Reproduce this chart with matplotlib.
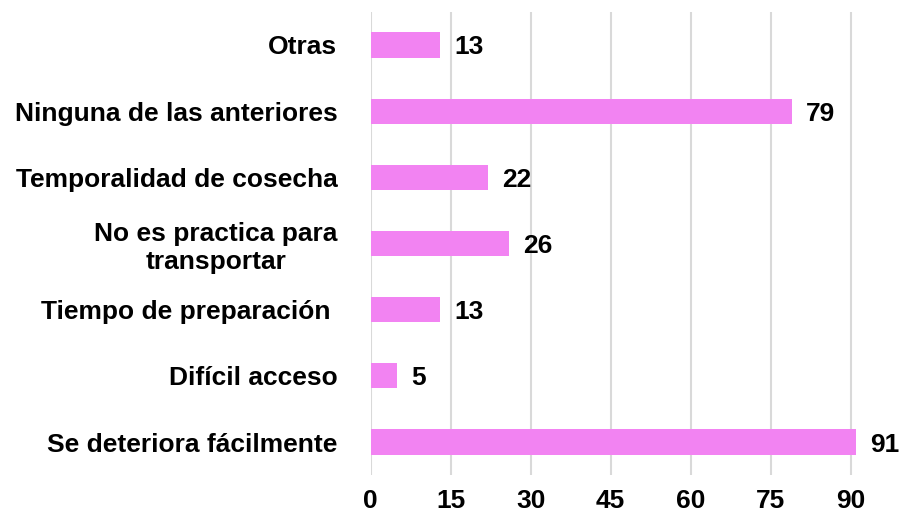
import matplotlib
matplotlib.use("Agg")
import matplotlib.pyplot as plt

# data, top to bottom as drawn
categories = ["Otras", "Ninguna de las anteriores", "Temporalidad de cosecha",
              "No es practica para\ntransportar", "Tiempo de preparación ",
              "Difícil acceso", "Se deteriora fácilmente"]
values = [13, 79, 22, 26, 13, 5, 91]
xticks = [0, 15, 30, 45, 60, 75, 90]

plt.rcParams['font.family'] = ['Liberation Sans', 'DejaVu Sans']

fig = plt.figure(figsize=(9, 5.17), dpi=100)
ax = fig.add_axes([0.412, 0.081, 0.545, 0.896])

ypos = list(range(len(categories)))[::-1]
ax.barh(ypos, values, height=0.38, color="#F283F2", zorder=2)

for y, v in zip(ypos, values):
    ax.text(v + 2.6, y, str(v), va="center_baseline", ha="left",
            fontsize=19, fontweight="bold", color="black")

ax.set_yticks(ypos)
ax.set_yticklabels(categories, fontsize=19, fontweight="bold",
                   multialignment="center", linespacing=1.2)
ax.set_xticks(xticks)
ax.set_xticklabels([str(t) for t in xticks], fontsize=19, fontweight="bold")
ax.set_xlim(0, 92)
ax.set_ylim(-0.5, 6.5)
ax.tick_params(axis="y", length=0, pad=24)
ax.tick_params(axis="x", length=0, pad=10)
ax.xaxis.grid(True, color="#D9D9D9", linewidth=1.5, zorder=0)
ax.set_axisbelow(True)
for s in ax.spines.values():
    s.set_visible(False)

fig.savefig("out.png", dpi=100)
